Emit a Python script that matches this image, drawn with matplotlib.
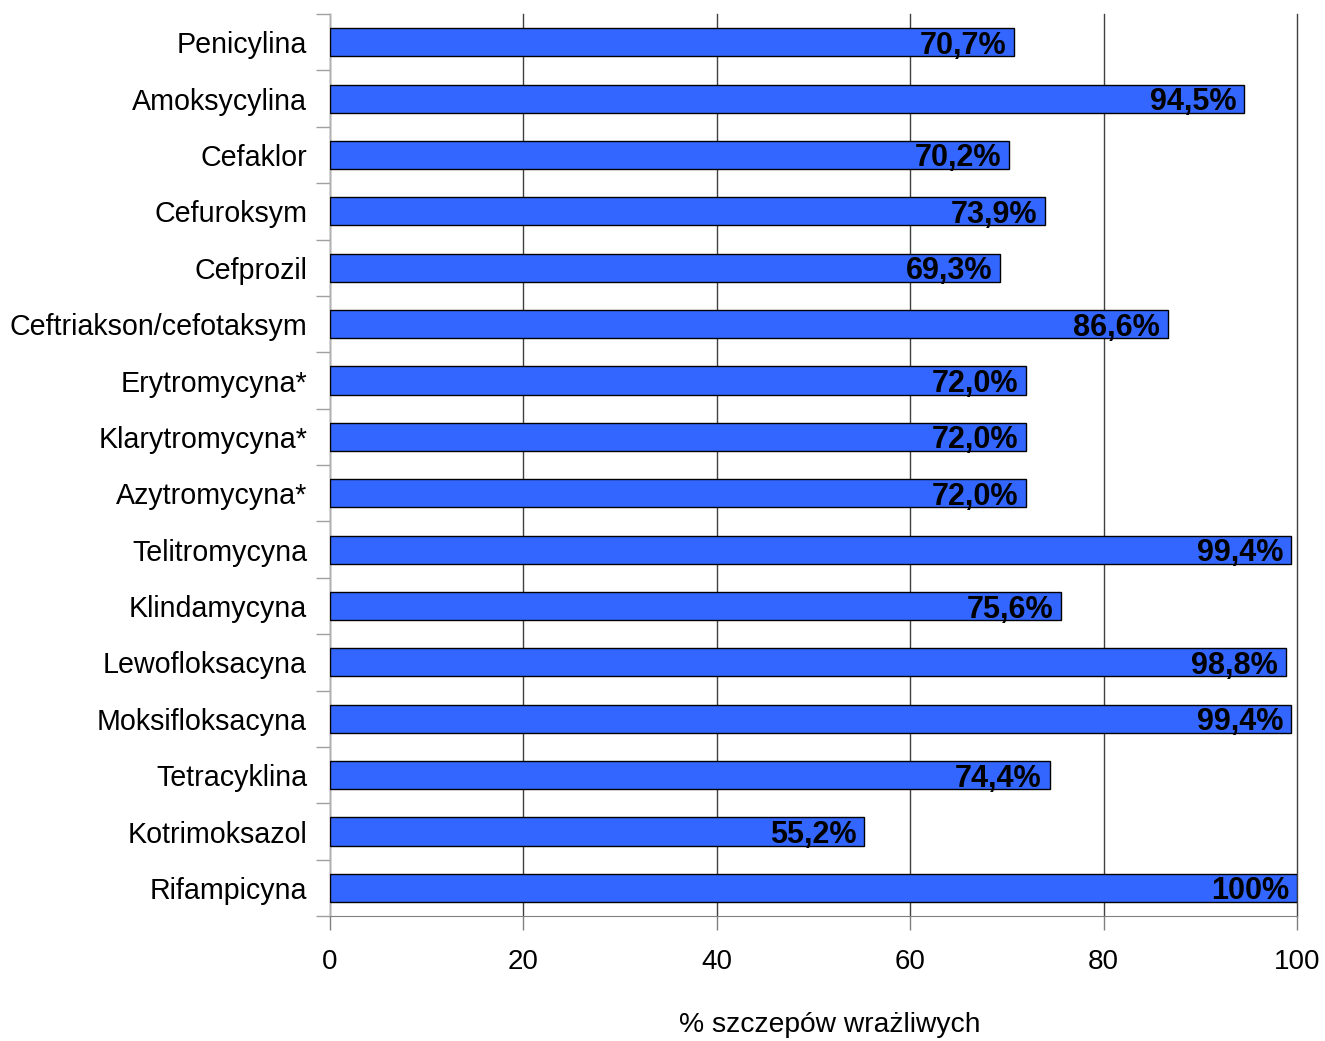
import matplotlib.pyplot as plt
from matplotlib.ticker import FixedLocator

plt.rcParams['font.family'] = ['Liberation Sans', 'DejaVu Sans']

antybiotyki = ['Penicylina', 'Amoksycylina', 'Cefaklor', 'Cefuroksym', 'Cefprozil',
               'Ceftriakson/cefotaksym', 'Erytromycyna*', 'Klarytromycyna*',
               'Azytromycyna*', 'Telitromycyna', 'Klindamycyna', 'Lewofloksacyna',
               'Moksifloksacyna', 'Tetracyklina', 'Kotrimoksazol', 'Rifampicyna']
wrazliwe = [70.7, 94.5, 70.2, 73.9, 69.3, 86.6, 72.0, 72.0,
            72.0, 99.4, 75.6, 98.8, 99.4, 74.4, 55.2, 100]
etykiety = ['70,7%', '94,5%', '70,2%', '73,9%', '69,3%', '86,6%', '72,0%', '72,0%',
            '72,0%', '99,4%', '75,6%', '98,8%', '99,4%', '74,4%', '55,2%', '100%']

fig = plt.figure(figsize=(13.25, 10.41), dpi=100)
ax = fig.add_axes([0.249, 0.120, 0.730, 0.8665])

n = len(antybiotyki)
pos = list(range(n))
ax.barh(pos, wrazliwe, height=0.5, color='#3366FF', edgecolor='black',
        linewidth=1, zorder=3)

for y, v, t in zip(pos, wrazliwe, etykiety):
    ax.text(v - 0.8, y, t, ha='right', va='center_baseline', fontsize=22,
            fontweight='bold', color='black', zorder=4)

ax.set_xlim(0, 100)
ax.set_ylim(n - 0.5, -0.5)
ax.set_xticks([0, 20, 40, 60, 80, 100])
ax.tick_params(axis='x', labelsize=20, length=10, width=1, color='#808080',
               pad=14)
ax.grid(axis='x', color='#404040', linewidth=1, zorder=0)
for gl in ax.get_xgridlines():
    gl.set_clip_on(False)

# etykiety kategorii w środku, kreski na granicach
ax.set_yticks(pos)
ax.set_yticklabels(antybiotyki, fontsize=20.6)
ax.tick_params(axis='y', length=0, pad=16.5)
ax.yaxis.set_minor_locator(FixedLocator([p - 0.5 for p in pos] + [n - 0.5]))
ax.tick_params(axis='y', which='minor', length=10, width=1, color='#a0a0a0')

for s in ['top', 'right']:
    ax.spines[s].set_visible(False)
ax.spines['left'].set_color('#b0b0b0')
ax.spines['bottom'].set_color('#808080')

ax.set_xlabel('% szczepów wrażliwych', fontsize=20.3, va='center')
ax.xaxis.set_label_coords(0.517, -0.121)

fig.savefig('out.png', dpi=100)
